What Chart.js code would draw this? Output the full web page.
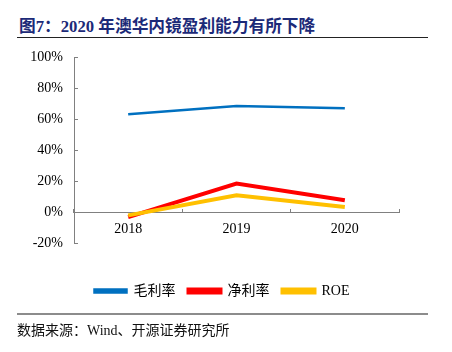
<!DOCTYPE html>
<html>
<head>
<meta charset="utf-8">
<script src="https://cdn.jsdelivr.net/npm/chart.js@4.4.1/dist/chart.umd.min.js"></script>
<style>
  html, body { margin: 0; padding: 0; background: #fff; }
  body { width: 452px; height: 352px; position: relative; overflow: hidden; }
  #title { position: absolute; left: 19px; top: 13px; font: bold 16.7px "Liberation Serif", "Times New Roman", "Noto Sans CJK SC", serif; color: #1c2a78; white-space: nowrap; }
  #tline { position: absolute; left: 17px; top: 37px; width: 411px; height: 1px; background: #222; }
  #fline { position: absolute; left: 17px; top: 313px; width: 411px; height: 2px; background: #8c8c8c; }
  #foot { position: absolute; left: 17px; top: 319px; font: 14px "Liberation Serif", "Times New Roman", "Noto Sans CJK SC", serif; color: #111; white-space: nowrap; }
  #wrap { position: absolute; left: 0; top: 34px; width: 452px; height: 281px; }
</style>
</head>
<body>
<div id="title">图7：2020 年澳华内镜盈利能力有所下降</div>
<div id="tline"></div>
<div id="wrap"><canvas id="c"></canvas></div>
<div id="fline"></div>
<div id="foot">数据来源：Wind、开源证券研究所</div>
<script>
const categories = ['2018', '2019', '2020'];
const grossMargin = [63.4, 68.7, 67.3];
const netMargin = [-2.8, 18.8, 8.0];
const roe = [-1.7, 11.3, 3.7];
const seriesNames = ['毛利率', '净利率', 'ROE'];
const yTicks = [-20, 0, 20, 40, 60, 80, 100];

const serif = '"Liberation Serif", "Times New Roman", "Noto Sans CJK SC", serif';
const axisColor = '#808080';

new Chart(document.getElementById('c'), {
  type: 'line',
  data: {
    labels: categories,
    datasets: [
      { label: seriesNames[0], data: grossMargin, borderColor: '#0070C0', backgroundColor: '#0070C0', borderWidth: 2.5, pointRadius: 0, tension: 0, order: 2 },
      { label: seriesNames[1], data: netMargin, borderColor: '#FF0000', backgroundColor: '#FF0000', borderWidth: 4, pointRadius: 0, tension: 0, order: 1 },
      { label: seriesNames[2], data: roe, borderColor: '#FFC000', backgroundColor: '#FFC000', borderWidth: 4, pointRadius: 0, tension: 0, order: 0 }
    ]
  },
  options: {
    responsive: true,
    maintainAspectRatio: false,
    animation: false,
    layout: { padding: { left: 0, right: 8, top: 0, bottom: 7 } },
    plugins: {
      tooltip: { enabled: false },
      legend: {
        position: 'bottom',
        title: { display: true, text: ' ', font: { size: 1 }, padding: { top: 26, bottom: 0 } },
        labels: {
          boxWidth: 32, boxHeight: 3, padding: 13,
          color: '#000',
          font: { family: serif, size: 14 },
          sort: (a, b) => a.datasetIndex - b.datasetIndex
        }
      }
    },
    scales: {
      x: {
        type: 'category',
        position: { y: 0 },
        offset: true,
        grid: { display: true, drawOnChartArea: false, drawTicks: true, tickLength: -4, offset: true, color: axisColor, lineWidth: 1 },
        border: { display: true, color: axisColor, width: 1 },
        ticks: { color: '#000', font: { family: serif, size: 14 }, padding: 12, maxRotation: 0 }
      },
      y: {
        min: -20, max: 100,
        afterBuildTicks: (s) => { s.ticks = yTicks.map(v => ({ value: v })); },
        afterFit: (s) => { s.width = 74; },
        grid: { display: true, drawOnChartArea: false, drawTicks: true, tickLength: -4, color: axisColor, lineWidth: 1 },
        border: { display: true, color: axisColor, width: 1 },
        ticks: { color: '#000', font: { family: serif, size: 14 }, padding: 15, callback: (v) => v + '%' }
      },
      spacer: {
        type: 'linear',
        position: 'right',
        display: true,
        afterFit: (s) => { s.width = 45; },
        grid: { display: false },
        border: { display: false },
        ticks: { display: false }
      }
    }
  }
});
</script>
</body>
</html>
